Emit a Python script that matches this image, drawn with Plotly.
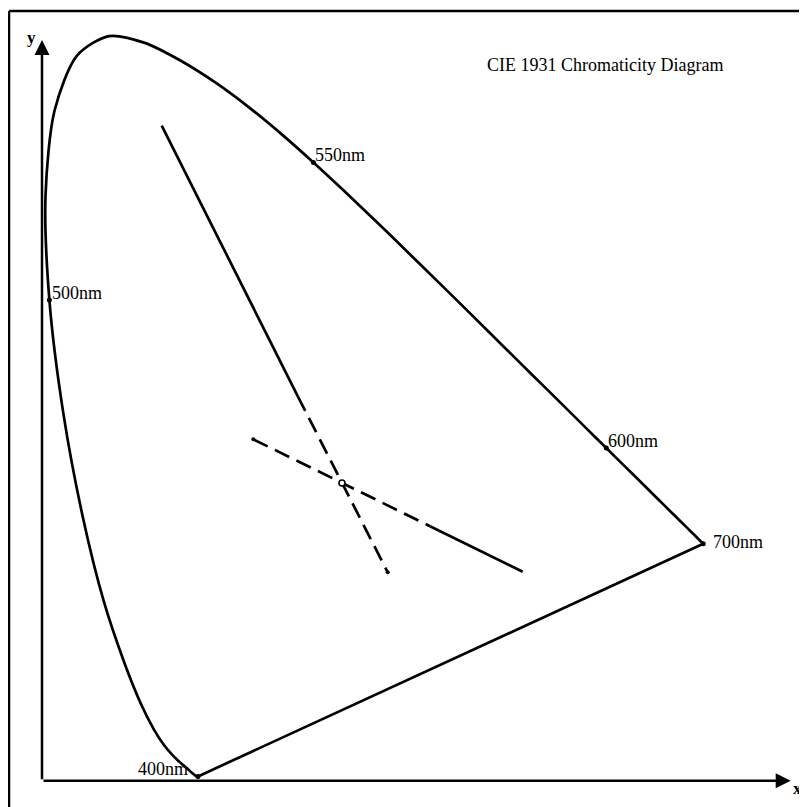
import plotly.graph_objects as go

# CIE 1931 spectral locus (chromaticity x, y), 400-700 nm every 5 nm
wavelengths = list(range(400, 705, 5))
locus_x = [0.1733, 0.1730, 0.1726, 0.1721, 0.1714, 0.1703, 0.1689, 0.1669, 0.1644, 0.1611,
           0.1566, 0.1510, 0.1440, 0.1355, 0.1241, 0.1096, 0.0913, 0.0687, 0.0454, 0.0235,
           0.0082, 0.0039, 0.0139, 0.0389, 0.0743, 0.1142, 0.1547, 0.1929, 0.2296, 0.2658,
           0.3016, 0.3373, 0.3731, 0.4087, 0.4441, 0.4788, 0.5125, 0.5448, 0.5752, 0.6029,
           0.6270, 0.6482, 0.6658, 0.6801, 0.6915, 0.7006, 0.7079, 0.7140, 0.7190, 0.7230,
           0.7260, 0.7283, 0.7300, 0.7311, 0.7320, 0.7327, 0.7334, 0.7340, 0.7344, 0.7346,
           0.7347]
locus_y = [0.0048, 0.0048, 0.0048, 0.0048, 0.0051, 0.0058, 0.0069, 0.0086, 0.0109, 0.0138,
           0.0177, 0.0227, 0.0297, 0.0399, 0.0578, 0.0868, 0.1327, 0.2007, 0.2950, 0.4127,
           0.5384, 0.6548, 0.7502, 0.8120, 0.8338, 0.8262, 0.8059, 0.7816, 0.7543, 0.7243,
           0.6923, 0.6589, 0.6245, 0.5896, 0.5547, 0.5202, 0.4866, 0.4544, 0.4242, 0.3965,
           0.3725, 0.3514, 0.3340, 0.3197, 0.3083, 0.2993, 0.2920, 0.2859, 0.2809, 0.2770,
           0.2740, 0.2717, 0.2700, 0.2689, 0.2680, 0.2673, 0.2666, 0.2660, 0.2656, 0.2654,
           0.2653]

# labelled wavelengths
label_nm = [400, 500, 550, 600, 700]
label_text = ["400nm", "500nm", "550nm", "600nm", "700nm"]

# line A: solid part then dashed part (through white point)
lineA_x = [0.1330, 0.2844, 0.3841]
lineA_y = [0.7335, 0.4302, 0.2334]
# line B: dashed part then solid part
lineB_x = [0.2348, 0.4317, 0.5341]
lineB_y = [0.3823, 0.2847, 0.2340]
# white point
white_x = [0.3333]
white_y = [0.3333]

# axis arrow ends (chromaticity units)
axis_x_end = 0.8319
axis_y_end = 0.8295

title_text = "CIE 1931 Chromaticity Diagram"

FONT = "Liberation Serif, Times New Roman, serif"
BLACK = "#000000"

# page has an 8px body margin; figure drawn at 799x799
W = 799
OFF = 8

fig = go.Figure()

# spectral locus + purple line back to 400 nm
fig.add_trace(go.Scatter(x=locus_x, y=locus_y, mode="lines",
                         line=dict(color=BLACK, width=2.7, shape="spline", smoothing=0.8),
                         hoverinfo="skip", showlegend=False))
fig.add_trace(go.Scatter(x=[locus_x[-1], locus_x[0]], y=[locus_y[-1], locus_y[0]], mode="lines",
                         line=dict(color=BLACK, width=2.7), hoverinfo="skip", showlegend=False))

# label dots
lx = [locus_x[wavelengths.index(w)] for w in label_nm]
ly = [locus_y[wavelengths.index(w)] for w in label_nm]
fig.add_trace(go.Scatter(x=lx, y=ly, mode="markers", marker=dict(color=BLACK, size=5),
                         hoverinfo="skip", showlegend=False))

# line A
fig.add_trace(go.Scatter(x=lineA_x[:2], y=lineA_y[:2], mode="lines",
                         line=dict(color=BLACK, width=2.7), showlegend=False, hoverinfo="skip"))
fig.add_trace(go.Scatter(x=lineA_x[1:], y=lineA_y[1:], mode="lines",
                         line=dict(color=BLACK, width=2.7, dash="16px,8px"), showlegend=False, hoverinfo="skip"))
# line B
fig.add_trace(go.Scatter(x=lineB_x[:2], y=lineB_y[:2], mode="lines",
                         line=dict(color=BLACK, width=2.7, dash="16px,8px"), showlegend=False, hoverinfo="skip"))
fig.add_trace(go.Scatter(x=lineB_x[1:], y=lineB_y[1:], mode="lines",
                         line=dict(color=BLACK, width=2.7), showlegend=False, hoverinfo="skip"))
# end dots of dashed parts
fig.add_trace(go.Scatter(x=[lineA_x[2], lineB_x[0]], y=[lineA_y[2], lineB_y[0]], mode="markers",
                         marker=dict(color=BLACK, size=4), showlegend=False, hoverinfo="skip"))
# white point
fig.add_trace(go.Scatter(x=white_x, y=white_y, mode="markers",
                         marker=dict(color="white", size=6, line=dict(color=BLACK, width=1.6)),
                         showlegend=False, hoverinfo="skip"))

annotations = []
# axes arrows
annotations.append(dict(x=axis_x_end, y=0, ax=0, ay=0, xref="x", yref="y", axref="x", ayref="y",
                        text="", showarrow=True, arrowhead=2, arrowsize=1.2, arrowwidth=2.5,
                        arrowcolor=BLACK, standoff=0, startstandoff=0))
annotations.append(dict(x=0, y=axis_y_end, ax=0, ay=0, xref="x", yref="y", axref="x", ayref="y",
                        text="", showarrow=True, arrowhead=2, arrowsize=1.2, arrowwidth=2.5,
                        arrowcolor=BLACK, standoff=0, startstandoff=0))
annotations.append(dict(x=axis_x_end, y=0, xref="x", yref="y", text="<b>x</b>", showarrow=False,
                        xanchor="left", yanchor="middle", xshift=0, yshift=-8,
                        font=dict(family=FONT, size=17, color=BLACK)))
annotations.append(dict(x=0, y=axis_y_end, xref="x", yref="y", text="<b>y</b>", showarrow=False,
                        xanchor="right", yanchor="middle", xshift=-4, yshift=2,
                        font=dict(family=FONT, size=17, color=BLACK)))

# wavelength labels
placements = {
    400: dict(xanchor="right", yanchor="bottom", xshift=-8, yshift=-5),
    500: dict(xanchor="left", yanchor="bottom", xshift=1, yshift=-5),
    550: dict(xanchor="left", yanchor="bottom", xshift=0, yshift=-5),
    600: dict(xanchor="left", yanchor="bottom", xshift=0, yshift=-5),
    700: dict(xanchor="left", yanchor="middle", xshift=8, yshift=2),
}
for w, t, x, y in zip(label_nm, label_text, lx, ly):
    annotations.append(dict(x=x, y=y, xref="x", yref="y", text=t, showarrow=False,
                            font=dict(family=FONT, size=18, color=BLACK), **placements[w]))

# title
annotations.append(dict(x=(485 - OFF) / W, y=1 - (65 - OFF) / W, xref="paper", yref="paper", text=title_text,
                        showarrow=False, xanchor="left", yanchor="middle",
                        font=dict(family=FONT, size=18, color=BLACK)))

shapes = [
    dict(type="line", xref="paper", yref="paper", x0=(9 - OFF) / W, x1=1, y0=1 - (11 - OFF) / W,
         y1=1 - (11 - OFF) / W, line=dict(color=BLACK, width=2.5)),
    dict(type="line", xref="paper", yref="paper", x0=(9 - OFF) / W, x1=(9 - OFF) / W, y0=0,
         y1=1 - (11 - OFF) / W, line=dict(color=BLACK, width=2.5)),
]

ox = 42 - OFF      # figure pixel of x = 0
oy = 780.7 - OFF   # figure pixel of y = 0
fig.update_layout(
    width=W, height=W,
    margin=dict(l=0, r=0, t=0, b=0),
    paper_bgcolor="white", plot_bgcolor="white",
    xaxis=dict(range=[-ox / 900, (W - ox) / 900], visible=False, fixedrange=True),
    yaxis=dict(range=[(oy - W) / 893, oy / 893], visible=False, fixedrange=True),
    annotations=annotations, shapes=shapes, showlegend=False,
)

fig.write_html("out.html")
